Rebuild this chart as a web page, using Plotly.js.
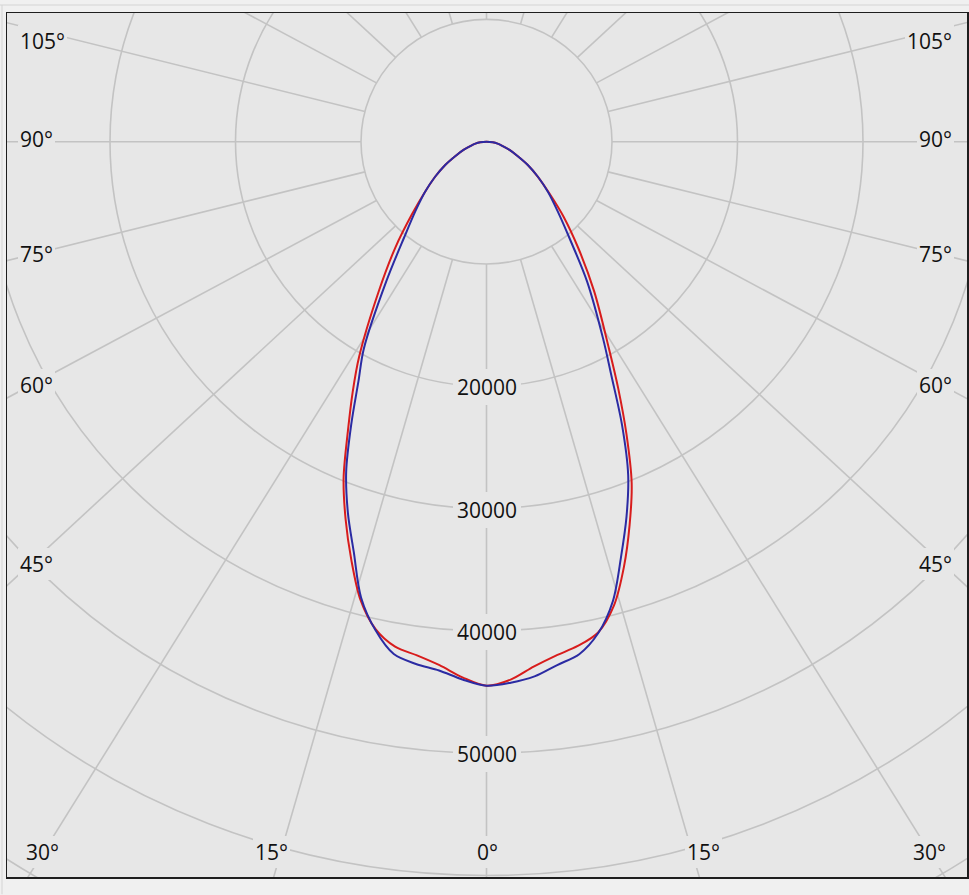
<!DOCTYPE html>
<html>
<head>
<meta charset="utf-8">
<script src="https://cdn.plot.ly/plotly-3.0.1.min.js"></script>
<style>
html,body{margin:0;padding:0;background:#f0f0f0;}
#chart{width:969px;height:895px;}
</style>
</head>
<body>
<div id="chart"></div>
<script>
// ---- Data (luminous intensity in cd, by gamma angle in degrees) ----
const angles    = [0, 2.5, 5, 7.5, 10, 12.5, 15, 17.5, 20, 22.5, 25, 27.5, 30, 35, 40, 45, 50, 55, 60, 65, 70, 75, 80, 85, 90];
const redLeft   = [44480, 43840, 42970, 42370, 41930, 40830, 38790, 35830, 32830, 29750, 26140, 23100, 20300, 15000, 11300, 8400, 6400, 5000, 3800, 2700, 1950, 1300, 900, 500, 0];
const redRight  = [44480, 44030, 43090, 42380, 41870, 41100, 39250, 36430, 33340, 30230, 26390, 22720, 19500, 14970, 11400, 8700, 6500, 5000, 3800, 2700, 1950, 1300, 900, 500, 0];
const blueLeft  = [44480, 44010, 43400, 43070, 42540, 40900, 38600, 35170, 32290, 29220, 25500, 22100, 19550, 13900, 10200, 8000, 6400, 5000, 3800, 2700, 1950, 1300, 900, 500, 0];
const blueRight = [44480, 44280, 43890, 43160, 42550, 41150, 38900, 35630, 32620, 29500, 25550, 21550, 18570, 13990, 10280, 8000, 6400, 5000, 3800, 2700, 1950, 1300, 900, 500, 0];

const ringValues      = [10000, 20000, 30000, 40000, 50000, 60000, 70000, 80000, 90000];
const ringLabelValues = [20000, 30000, 40000, 50000];
const spokeAngles     = [0, 15, 30, 45, 60, 75, 90, 105, 120, 135, 150, 165, 180, 195, 210, 225, 240, 255, 270, 285, 300, 315, 330, 345];
const angleLabels     = ['105°', '90°', '75°', '60°', '45°', '30°', '15°', '0°', '15°', '30°', '45°', '60°', '75°', '90°', '105°'];

// ---- Geometry / style (not data) ----
const W = 969, H = 895;
const M = {l: 7, r: 2, t: 13, b: 18};
const CX = 486.5, CY = 141.7;
const KX = 125.5 / 10000, KY = 122.3 / 10000;   // px per cd
const SPOKE_SKEW = 1.0525;
const BG = '#e7e7e7';
const GRID = '#c3c3c3';
const FONT = {family: 'Open Sans, DejaVu Sans, sans-serif', size: 21, color: '#111111'};

const xRange = [(M.l - CX) / KX, (W - M.r - CX) / KX];
const yRange = [(H - M.b - CY) / KY, (M.t - CY) / KY];
function pxX(px) { return (px - CX) / KX; }
function pxY(py) { return (py - CY) / KY; }

// label placement: [px, py, xanchor] aligned with angleLabels
const labelPlacement = [
  [18, 41.5, 'left'], [18, 140, 'left'], [18, 254.5, 'left'], [18, 385.5, 'left'], [18, 565, 'left'],
  [42, 852.5, 'center'], [271.5, 852.5, 'center'], [487, 852.5, 'center'], [703, 852.5, 'center'], [929.5, 852.5, 'center'],
  [954, 565, 'right'], [954, 385.5, 'right'], [954, 254.5, 'right'], [954, 140, 'right'], [954, 41.5, 'right']
];

function curveXY(left, right) {
  const xs = [], ys = [];
  for (let i = angles.length - 1; i >= 0; i--) {
    const g = angles[i] * Math.PI / 180;
    xs.push(-left[i] * Math.sin(g)); ys.push(left[i] * Math.cos(g));
  }
  for (let i = 1; i < angles.length; i++) {
    const g = angles[i] * Math.PI / 180;
    xs.push(right[i] * Math.sin(g)); ys.push(right[i] * Math.cos(g));
  }
  return {xs, ys};
}

const red = curveXY(redLeft, redRight);
const blue = curveXY(blueLeft, blueRight);

const traces = [
  {x: red.xs, y: red.ys, mode: 'lines', type: 'scatter', line: {color: '#d81c1c', width: 2, shape: 'spline', smoothing: 0.9}, hoverinfo: 'skip', showlegend: false},
  {x: blue.xs, y: blue.ys, mode: 'lines', type: 'scatter', line: {color: '#2b2ba3', width: 2, shape: 'spline', smoothing: 0.9}, hoverinfo: 'skip', showlegend: false}
];

const shapes = [];
ringValues.forEach(r => {
  shapes.push({type: 'circle', xref: 'x', yref: 'y', x0: -r, x1: r, y0: -r, y1: r,
    line: {color: GRID, width: 1.6}, layer: 'below'});
});
spokeAngles.forEach(a => {
  const t = a * Math.PI / 180;
  let ux = SPOKE_SKEW * Math.sin(t), uy = Math.cos(t);
  const n = Math.hypot(ux, uy); ux /= n; uy /= n;
  shapes.push({type: 'line', xref: 'x', yref: 'y',
    x0: ringValues[0] * ux, y0: ringValues[0] * uy,
    x1: 150000 * ux, y1: 150000 * uy,
    line: {color: GRID, width: 1.6}, layer: 'below'});
});
// window chrome lines outside the frame
shapes.push({type: 'line', xref: 'paper', yref: 'paper', x0: -0.01, x1: 1.01, y0: (H - M.b - 5) / (H - M.t - M.b), y1: (H - M.b - 5) / (H - M.t - M.b), line: {color: '#d4d4d4', width: 1}});
shapes.push({type: 'line', xref: 'paper', yref: 'paper', x0: (2 - M.l) / (W - M.l - M.r), x1: (2 - M.l) / (W - M.l - M.r), y0: -0.02, y1: (H - M.b - 5) / (H - M.t - M.b), line: {color: '#d4d4d4', width: 1}});

const annotations = [];
ringLabelValues.forEach(v => {
  annotations.push({x: 0, y: v, xref: 'x', yref: 'y', text: String(v), showarrow: false,
    font: FONT, bgcolor: BG, borderpad: 4, borderwidth: 0, xanchor: 'center', yanchor: 'middle', yshift: -1});
});
angleLabels.forEach((txt, i) => {
  const p = labelPlacement[i];
  annotations.push({x: pxX(p[0]), y: pxY(p[1]), xref: 'x', yref: 'y', text: txt, showarrow: false,
    font: FONT, bgcolor: BG, borderpad: 2, borderwidth: 0, xanchor: p[2], yanchor: 'middle', yshift: 1});
});

const axisCommon = {showgrid: false, zeroline: false, showticklabels: false, ticks: '',
  showline: true, mirror: true, linecolor: '#1e1e1e', linewidth: 1.5, fixedrange: true};

const layout = {
  width: W, height: H,
  margin: M,
  paper_bgcolor: '#f0f0f0',
  plot_bgcolor: BG,
  xaxis: Object.assign({range: xRange}, axisCommon),
  yaxis: Object.assign({range: yRange}, axisCommon),
  shapes: shapes,
  annotations: annotations,
  showlegend: false
};

Plotly.newPlot('chart', traces, layout, {displayModeBar: false, staticPlot: true});
</script>
</body>
</html>
